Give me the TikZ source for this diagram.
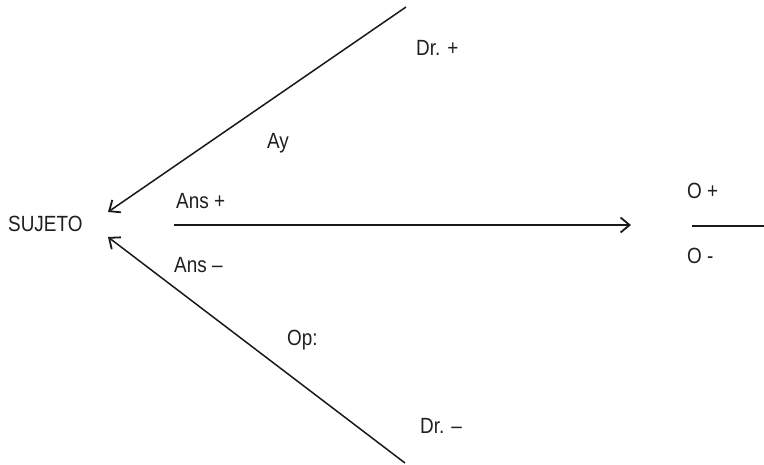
\documentclass[tikz,border=0pt]{standalone}
\usepackage{fontspec}
\setmainfont{Liberation Sans}
\newfontfamily\lblfont[FakeStretch=0.86]{Liberation Sans}
\usetikzlibrary{arrows.meta}
\begin{document}
\begin{tikzpicture}[x=1pt,y=-1pt,
  lbl/.style={font=\lblfont\fontsize{22}{24}\selectfont, inner sep=0pt, anchor=base west, text=black!88},
  conn/.style={line width=1.5pt, draw=black!90},
  arr/.style={conn, -{Straight Barb[length=9pt,width=15pt,line width=1.8pt]}}]
\useasboundingbox (0,0) rectangle (764,464);
\node[lbl] (suj) at (8,231) {SUJETO};
\node[lbl] (drp) at (416,55) {Dr. +};
\node[lbl] (ay) at (267,148) {Ay};
\node[lbl] (ansp) at (176,208) {Ans +};
\node[lbl] (ansm) at (174,272) {Ans –};
\node[lbl] (op) at (287,345) {Op:};
\node[lbl] (drm) at (420,433) {Dr. –};
\node[lbl] (op1) at (687,198) {O +};
\node[lbl] (om) at (687,263) {O -};
\coordinate (t1) at (406,7);
\coordinate (t2) at (108,212);
\coordinate (b1) at (405,463);
\coordinate (b2) at (108,237);
\coordinate (h1) at (174,225);
\coordinate (h2) at (631,225);
\coordinate (r1) at (692,226);
\coordinate (r2) at (764,226);
\draw[arr] (t1) -- (t2);
\draw[arr] (b1) -- (b2);
\draw[arr] (h1) -- (h2);
\draw[conn] (r1) -- (r2);
\end{tikzpicture}
\end{document}
